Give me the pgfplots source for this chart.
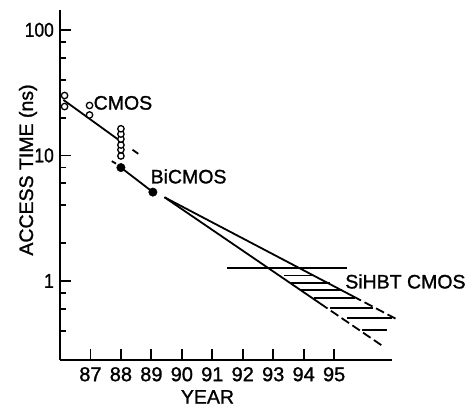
\documentclass[border=0pt]{standalone}
\usepackage{fontspec}
\setmainfont{Liberation Sans}[FakeBold=1.2]
\usepackage{pgfplots}
\pgfplotsset{compat=1.18}
\newcommand{\bigf}{\fontsize{20}{24}\selectfont}
\newcommand{\labf}{\fontsize{19.5}{23}\selectfont}
\pgfplotsset{ln/.style={black, no markers, line width=1.8pt}, dl/.style={ln, dash pattern=on 9pt off 4pt}}
\begin{document}
\begin{tikzpicture}
\useasboundingbox (-60pt,-47pt) rectangle (414pt,360pt);
\begin{axis}[
  at={(0pt,0pt)}, anchor=south west,
  scale only axis, width=332pt, height=350pt,
  xmin=86.0, xmax=96.9,
  ymode=log, ymin=0.2345, ymax=144,
  axis lines=left,
  axis line style={line width=2pt,-},
  tick style={line width=1.8pt, black},
  tick align=inside,
  major tick length=11pt, minor tick length=6pt,
  xtick={87,88,89,90,91,92,93,94,95},
  xticklabels={87,88,89,90,91,92,93,94,95},
  ytick={1,10,100}, yticklabels={1,10,100},
  minor ytick={0.4,0.6,0.8,2,4,6,8,20,40,60,80},
  xticklabel style={font=\bigf, inner sep=0pt, anchor=north, yshift=-7pt},
  yticklabel style={font=\bigf, inner sep=0pt, anchor=east, xshift=-6pt, xscale=0.87},
  clip=false,
]
% CMOS trend
\addplot[ln] coordinates {(86.11,27.7) (88.0,12.9)};
\addplot[ln] coordinates {(88.38,11.1) (88.57,10.3)};
% BiCMOS trend
\addplot[ln] coordinates {(87.70,9.0) (87.84,8.6)};
\addplot[ln] coordinates {(88.0,8.0) (89.05,5.1)};
% projections
\addplot[ln] coordinates {(89.43,4.64) (95.62,0.755)};
\addplot[dl] coordinates {(95.62,0.755) (97.10,0.489)};
\addplot[ln] coordinates {(89.43,4.64) (94.54,0.662)};
\addplot[dl] coordinates {(94.54,0.662) (96.62,0.30)};
% SiHBT CMOS level and hatching
\addplot[ln] coordinates {(91.49,1.27) (95.42,1.27)};
\addplot[ln] coordinates {(93.36,1.106) (94.34,1.106)};
\addplot[ln] coordinates {(93.59,0.959) (94.87,0.959)};
\addplot[ln] coordinates {(93.89,0.848) (95.26,0.848)};
\addplot[ln] coordinates {(94.34,0.728) (95.69,0.728)};
\addplot[ln] coordinates {(94.87,0.606) (96.28,0.606)};
\addplot[ln] coordinates {(95.43,0.505) (96.90,0.505)};
\addplot[ln] coordinates {(95.92,0.407) (96.74,0.407)};
% CMOS data (open circles)
\addplot[only marks, mark=*, mark size=3.2pt, mark options={fill=white, draw=black, line width=1.3pt}] coordinates {
(86.15,30) (86.15,24.5) (86.97,25) (86.97,21)
(88,9.9) (88,11.1) (88,12.1) (88,13.5) (88,14.8) (88,16.3)};
% BiCMOS data (filled circles)
\addplot[only marks, mark=*, mark size=4.2pt, mark options={fill=black, draw=black, line width=0.5pt}] coordinates {(88,8.0) (89.05,5.1)};
\node[anchor=west, inner sep=0pt, font=\labf] at (axis cs:87.1,26.2) {CMOS};
\node[anchor=west, inner sep=0pt, font=\labf] at (axis cs:88.97,6.8) {BiCMOS};
\node[anchor=west, inner sep=0pt, font=\labf] at (axis cs:95.36,0.99) {SiHBT CMOS};
\end{axis}
\node[rotate=90, anchor=base, inner sep=0pt, font=\labf] at (-27pt,190pt) {ACCESS TIME (ns)};
\node[anchor=north, inner sep=0pt, font=\labf] at (147.5pt,-30pt) {YEAR};
\end{tikzpicture}
\end{document}
